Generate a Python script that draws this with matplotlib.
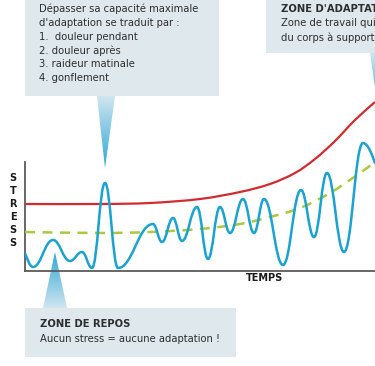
import numpy as np
import matplotlib
matplotlib.use("Agg")
import matplotlib.pyplot as plt
from matplotlib.path import Path
from matplotlib.patches import PathPatch, Polygon, Rectangle
from matplotlib.colors import LinearSegmentedColormap

W, H = 375, 366

# blue stress curve: turning points (time, stress)
blue_t = [0, 8, 28, 45, 57, 67, 80, 93, 128, 137, 148, 157, 172, 183, 195,
          205, 218, 229, 239, 258, 276, 289, 302, 319, 338, 350]
blue_s = [18, 4, 31, 10, 19, 3, 88, 3, 47, 29, 53, 30, 64, 12, 64,
          38, 72, 38, 72, 6, 81, 34, 98, 19, 128, 108]

# red line: maximum adaptation capacity
red_t = [0, 75, 125, 175, 215, 245, 270, 290, 310, 330, 350]
red_s = [67, 67, 68, 72, 79, 87, 98, 112, 130, 151, 169]

# green dashed line: average load
green_t = [0, 75, 125, 175, 215, 245, 275, 305, 335, 350]
green_s = [39, 38, 39, 42, 47, 54, 63, 78, 98, 109]

box1_lines = ["Dépasser sa capacité maximale",
              "d'adaptation se traduit par :",
              "1.  douleur pendant",
              "2. douleur après",
              "3. raideur matinale",
              "4. gonflement"]
box2_title = "ZONE D'ADAPTATION"
box2_lines = ["Zone de travail qui permet",
              "du corps à supporter le stress"]
box3_title = "ZONE DE REPOS"
box3_line = "Aucun stress = aucune adaptation !"

BLUE = "#19a2d2"
RED = "#d42a2f"
GREEN = "#a9c93e"
BOX = "#dfe8ed"
TXT = "#2e2e2e"


def smooth_path(xs, ys):
    # Catmull-Rom style bezier through the given points
    pts = list(zip(xs, ys))
    verts = [pts[0]]
    codes = [Path.MOVETO]
    for i in range(1, len(pts)):
        p0 = pts[max(i - 2, 0)]
        p1 = pts[i - 1]
        p2 = pts[i]
        p3 = pts[min(i + 1, len(pts) - 1)]
        c1 = (p1[0] + (p2[0] - p0[0]) / 6, p1[1] + (p2[1] - p0[1]) / 6)
        c2 = (p2[0] - (p3[0] - p1[0]) / 6, p2[1] - (p3[1] - p1[1]) / 6)
        verts += [c1, c2, p2]
        codes += [Path.CURVE4] * 3
    return Path(verts, codes)


fig = plt.figure(figsize=(W / 100, H / 100), dpi=100)
fig.patch.set_facecolor("white")

# background layer in pixel coordinates
bg = fig.add_axes([0, 0, 1, 1])
bg.set_xlim(0, W)
bg.set_ylim(H, 0)
bg.axis("off")

for x0, y0, x1, y1 in [(25, -5, 219, 96), (266, -5, 380, 53), (25, 308, 236, 357)]:
    bg.add_patch(Rectangle((x0, y0), x1 - x0, y1 - y0, color=BOX, lw=0, zorder=1))

grad = LinearSegmentedColormap.from_list("g", ["#cfe5ef", "#2ea7d6"])


def pointer(verts, y_light, y_dark):
    poly = Polygon(verts, closed=True, facecolor="none", edgecolor="none")
    bg.add_patch(poly)
    xs = [v[0] for v in verts]
    ys = [v[1] for v in verts]
    g = np.linspace(0, 1, 100).reshape(-1, 1)
    top, bot = min(ys), max(ys)
    if y_dark < y_light:
        g = g[::-1]
    im = bg.imshow(g, cmap=grad, aspect="auto", zorder=2,
                   extent=(min(xs), max(xs), bot, top), origin="upper")
    im.set_clip_path(poly)


pointer([(97, 96), (115, 96), (105, 168)], 96, 168)
pointer([(43, 308), (67, 308), (55, 252)], 308, 252)
pointer([(370, 53), (386, 53), (378, 108)], 53, 108)
bg.set_xlim(0, W)
bg.set_ylim(H, 0)

fs = 7.2
for i, line in enumerate(box1_lines):
    bg.text(39, 9 + i * 13.8, line, fontsize=fs, color=TXT, va="center", ha="left")
bg.text(281, 9, box2_title, fontsize=fs, color=TXT, va="center", fontweight="bold")
for i, line in enumerate(box2_lines):
    bg.text(281, 23.5 + i * 13.8, line, fontsize=fs, color=TXT, va="center")
bg.text(40, 324, box3_title, fontsize=fs, color=TXT, va="center", fontweight="bold")
bg.text(40, 339, box3_line, fontsize=fs, color=TXT, va="center")

for i, ch in enumerate("STRESS"):
    bg.text(13, 178 + i * 13, ch, fontsize=7, fontweight="bold", color="#1a1a1a",
            ha="center", va="center")
bg.text(265, 278, "TEMPS", fontsize=7, fontweight="bold", color="#1a1a1a",
        ha="center", va="center")

# chart axes: left at x=25px, bottom at y=271px, top of frame at 95px
ax = fig.add_axes([25 / W, (H - 271) / H, 350 / W, 176 / H])
ax.patch.set_alpha(0)
ax.set_xlim(0, 350)
ax.set_ylim(0, 176)
ax.set_xticks([])
ax.set_yticks([])
for side in ["top", "right"]:
    ax.spines[side].set_visible(False)
for side in ["left", "bottom"]:
    ax.spines[side].set_color("#5a5a5a")
    ax.spines[side].set_linewidth(1.3)
ax.spines["left"].set_bounds(0, 109)

ax.add_patch(PathPatch(smooth_path(red_t, red_s), fill=False, edgecolor=RED,
                       lw=1.6, zorder=3))
ax.add_patch(PathPatch(smooth_path(green_t, green_s), fill=False, edgecolor=GREEN,
                       lw=1.8, ls=(0, (4, 3)), zorder=3))

# smooth wave through turning points (horizontal tangents)
verts = [(blue_t[0], blue_s[0])]
codes = [Path.MOVETO]
for i in range(1, len(blue_t)):
    t0, s0 = blue_t[i - 1], blue_s[i - 1]
    t1, s1 = blue_t[i], blue_s[i]
    d = (t1 - t0) * 0.42
    if i == 1:
        c1 = (t0 + d * 0.6, s0 - (s0 - s1) * 0.35)
    else:
        c1 = (t0 + d, s0)
    if i == len(blue_t) - 1:
        c2 = (t1 - d * 0.5, s1 + (s0 - s1) * 0.35)
    else:
        c2 = (t1 - d, s1)
    verts += [c1, c2, (t1, s1)]
    codes += [Path.CURVE4] * 3
ax.add_patch(PathPatch(Path(verts, codes), fill=False, edgecolor=BLUE,
                       lw=1.8, zorder=4, capstyle="round"))

fig.savefig("out.png", dpi=100, facecolor="white")
